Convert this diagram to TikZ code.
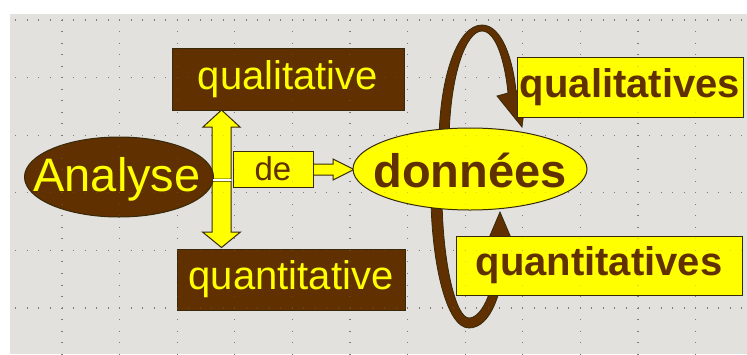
\documentclass[tikz,border=0pt]{standalone}
\usepackage{fontspec}
\setmainfont{Liberation Sans}
\usetikzlibrary{shapes.geometric}
\definecolor{bg}{RGB}{227,225,221}
\definecolor{brn}{RGB}{96,48,0}
\definecolor{ylw}{RGB}{255,255,0}
\definecolor{edgec}{RGB}{55,42,10}
\definecolor{gridc}{RGB}{125,125,125}
\begin{document}
\begin{tikzpicture}[x=1pt,y=-1pt,
  griddot/.style={draw=gridc, line width=1.1pt, dash pattern=on 1pt off 10.52pt},
  brownbox/.style={draw=edgec, line width=1pt, fill=brn, text=ylw, inner sep=0pt,
    font=\fontsize{40}{40}\selectfont},
  yellowbox/.style={draw=edgec, line width=1pt, fill=ylw, text=brn, inner sep=0pt,
    font=\fontsize{40}{40}\selectfont\bfseries},
  brownell/.style={ellipse, draw=edgec, line width=1pt, fill=brn, inner sep=0pt},
  yellowell/.style={ellipse, draw=edgec, line width=1pt, fill=ylw, inner sep=0pt},
  yarrow/.style={draw=edgec, line width=1pt, fill=ylw, line join=miter},
  loopst/.style={draw=edgec, line width=0.8pt, fill=brn, line join=miter},
  lbl/.style={inner sep=0pt}]
\useasboundingbox (0,0) rectangle (747,354);
\fill[white] (0,0) rectangle (747,354);
\fill[bg] (10,14) rectangle (747,354);
% grid
\begin{scope}
\clip (10,14) rectangle (747,354);
\foreach \k in {0,...,5} \draw[griddot] (3.9,{20+57.6*\k}) -- (747,{20+57.6*\k});
\foreach \k in {0,...,11} \draw[griddot] ({62+57.6*\k},-3.5) -- ({62+57.6*\k},354);
\end{scope}
% loops around "données"
\filldraw[loopst] (439,140) .. controls (440,75) and (458,25) .. (482,25)
  .. controls (502,25) and (513,60) .. (516,91) -- (527,88) -- (522,127) -- (497,96) -- (508,93)
  .. controls (505,62) and (496,31) .. (482,31)
  .. controls (466,31) and (450,75) .. (449,140) -- cycle;
\filldraw[loopst] (431,200) .. controls (432,262) and (446,328) .. (469,328)
  .. controls (491,328) and (504,290) .. (504,252) -- (517,252) -- (500,212) -- (483,252) -- (496,252)
  .. controls (496,285) and (483,318) .. (469,318)
  .. controls (456,318) and (443,265) .. (442,200) -- cycle;
% vertical block arrows
\filldraw[yarrow] (212,179) -- (212,127) -- (203,127) -- (221.5,110) -- (240,127) -- (231,127) -- (231,179) -- cycle;
\filldraw[yarrow] (212,181) -- (212,232) -- (202.5,232) -- (221.5,247.5) -- (240.5,232) -- (231,232) -- (231,181) -- cycle;
% Analyse ellipse
\node[brownell, minimum width=189pt, minimum height=80pt] (an) at (119,177) {};
\node[lbl, text=ylw, font=\fontsize{47}{47}\selectfont] (antxt) at (117,179) {Analyse};
\fill[white] (213,179.2) rectangle (230.5,180.8);
% de arrow
\filldraw[yarrow] (313,164) -- (333,164) -- (333,159) -- (354,169.5) -- (333,180) -- (333,175) -- (313,175) -- cycle;
\node[yellowbox, font=\fontsize{33}{33}\selectfont, minimum width=80pt, minimum height=36pt] (de) at (273,169) {de};
% données ellipse
\node[yellowell, minimum width=234pt, minimum height=82pt] (don) at (470,169) {};
\node[lbl, text=brn, font=\fontsize{47}{47}\selectfont\bfseries] (dontxt) at (470,170) {données};
% boxes
\node[brownbox, minimum width=232pt, minimum height=62pt] (ql) at (288,79) {qualitative};
\node[brownbox, minimum width=228pt, minimum height=61pt] (qn) at (291,279.5) {quantitative};
\node[yellowbox, minimum width=226pt, minimum height=60pt] (qls) at (630,87) {qualitatives};
\node[yellowbox, minimum width=286pt, minimum height=59pt] (qns) at (599,265.5) {quantitatives};
% faint grid over the shapes
\begin{scope}[opacity=0.25]
\clip (10,14) rectangle (747,354);
\foreach \k in {0,...,5} \draw[griddot] (3.9,{20+57.6*\k}) -- (747,{20+57.6*\k});
\foreach \k in {0,...,11} \draw[griddot] ({62+57.6*\k},-3.5) -- ({62+57.6*\k},354);
\end{scope}
\end{tikzpicture}
\end{document}
